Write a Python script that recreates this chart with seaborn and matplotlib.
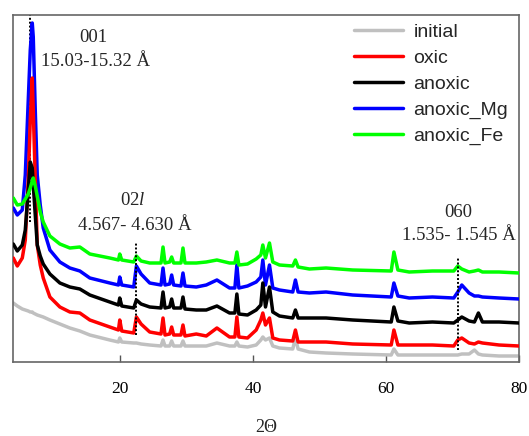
import matplotlib
matplotlib.use("Agg")
import matplotlib.pyplot as plt
import pandas as pd
import seaborn as sns

# 2-theta positions (degrees)
two_theta = [4.0, 4.6, 5.35, 5.8, 6.25, 6.55, 6.85, 7.0, 7.3, 7.6,
             8.05, 8.5, 9.5, 11.0, 12.5, 14.0, 15.5, 18.5, 19.8, 20.0,
             20.3, 22.1, 22.5, 23.2, 24.5, 26.2, 26.5, 26.8, 27.5, 27.8,
             28.1, 29.2, 29.5, 29.8, 31.5, 33.0, 34.6, 36.5, 37.3, 37.6,
             37.9, 39.2, 40.5, 41.2, 41.5, 41.9, 42.5, 43.0, 44.0, 46.0,
             46.4, 46.8, 48.5, 51.0, 55.0, 60.8, 61.2, 61.8, 63.5, 67.0,
             70.2, 70.8, 71.4, 72.5, 73.3, 73.9, 74.5, 77.0, 80.0]

# intensities (arbitrary units, stacked patterns)
initial = [59, 56, 53, 52, 51, 50, 50, 49, 48, 47,
           46, 45, 42, 38, 34, 31, 27, 22, 20, 24,
           20, 19, 19, 18, 17, 16, 22, 16, 16, 21,
           16, 16, 21, 16, 16, 16, 19, 16, 16, 20,
           16, 15, 17, 22, 25, 22, 24, 16, 14, 13,
           24, 13, 10, 9, 8, 7, 13, 7, 7, 7,
           7, 7, 8, 8, 12, 8, 7, 6, 6]
oxic = [104, 96, 104, 122, 182, 242, 284, 252, 182, 117,
        97, 84, 65, 55, 50, 49, 42, 35, 32, 42,
        31, 29, 45, 38, 30, 28, 44, 27, 28, 35,
        27, 27, 37, 26, 28, 26, 34, 25, 25, 45,
        25, 24, 32, 42, 49, 37, 44, 24, 22, 21,
        32, 20, 20, 20, 18, 17, 32, 17, 17, 17,
        16, 22, 24, 19, 18, 20, 19, 17, 16]
anoxic = [118, 111, 117, 132, 172, 200, 194, 177, 147, 117,
          106, 98, 88, 79, 75, 73, 67, 60, 57, 64,
          56, 54, 62, 58, 55, 54, 70, 54, 55, 63,
          54, 54, 65, 53, 52, 52, 56, 49, 49, 68,
          48, 47, 52, 57, 79, 55, 75, 50, 46, 44,
          52, 44, 44, 44, 42, 40, 55, 41, 39, 40,
          39, 42, 45, 41, 40, 49, 40, 40, 39]
anoxic_mg = [154, 147, 152, 187, 262, 312, 339, 325, 252, 187,
             157, 134, 112, 100, 94, 91, 84, 79, 77, 85,
             77, 75, 96, 88, 79, 77, 94, 77, 78, 87,
             77, 76, 89, 76, 75, 77, 82, 74, 74, 97,
             74, 76, 80, 85, 102, 77, 97, 74, 72, 70,
             82, 70, 69, 70, 67, 65, 79, 66, 64, 65,
             64, 70, 77, 69, 66, 66, 65, 64, 63]
anoxic_fe = [164, 157, 158, 163, 168, 174, 181, 184, 176, 166,
             150, 140, 126, 118, 114, 115, 108, 104, 102, 108,
             102, 100, 106, 101, 99, 99, 115, 99, 100, 105,
             99, 99, 114, 99, 99, 100, 102, 99, 99, 110,
             97, 98, 103, 107, 117, 104, 119, 100, 97, 96,
             102, 95, 93, 94, 92, 91, 110, 92, 90, 91,
             91, 96, 93, 90, 91, 92, 90, 90, 89]

samples = ["initial", "oxic", "anoxic", "anoxic_Mg", "anoxic_Fe"]
series = [initial, oxic, anoxic, anoxic_mg, anoxic_fe]
colors = ["#c0c0c0", "#ff0000", "#000000", "#0000ff", "#00ff00"]
z_of = {"#c0c0c0": 2, "#0000ff": 3, "#ff0000": 4, "#000000": 5, "#00ff00": 6}

# reflection annotations
refl_labels = ["001", "02$\\mathit{l}$", "060"]
refl_ranges = ["15.03-15.32 Å", "4.567- 4.630 Å", "1.535- 1.545 Å"]
refl_pos = [6.55, 22.45, 70.87]

df = pd.concat([pd.DataFrame({"2Θ": two_theta, "I": vals, "sample": name})
                for name, vals in zip(samples, series)], ignore_index=True)

sns.set_style("white")
plt.rcParams["font.family"] = ["Liberation Serif", "DejaVu Serif"]
plt.rcParams["mathtext.fontset"] = "custom"
plt.rcParams["mathtext.rm"] = "Liberation Serif"
plt.rcParams["mathtext.it"] = "Liberation Serif:italic"

fig = plt.figure(figsize=(5.29, 4.36), dpi=100)
ax = fig.add_axes([13.3 / 529, 1 - 362 / 436, 505.7 / 529, 347 / 436])

sns.lineplot(data=df, x="2Θ", y="I", hue="sample", hue_order=samples,
             palette=colors, sort=False, estimator=None, linewidth=2.5, ax=ax)
for ln in ax.lines:
    c = matplotlib.colors.to_hex(ln.get_color())
    ln.set_zorder(z_of.get(c, 2))
    ln.set_solid_joinstyle("round")

# dotted reflection markers
ax.plot([refl_pos[0]] * 2, [140, 347], color="black", ls=(0, (1, 1)), lw=1.4, zorder=1.5)
ax.plot([refl_pos[1]] * 2, [27, 119], color="black", ls=(0, (1, 1)), lw=1.4, zorder=7)
ax.plot([refl_pos[2]] * 2, [12, 104], color="black", ls=(0, (1, 1)), lw=1.4, zorder=7)

fs = 13.5
ax.text(16.0, 325, refl_labels[0], ha="center", va="center", fontsize=fs)
ax.text(16.3, 301, refl_ranges[0], ha="center", va="center", fontsize=fs)
ax.text(21.9, 162, refl_labels[1], ha="center", va="center", fontsize=fs)
ax.text(22.2, 137, refl_ranges[1], ha="center", va="center", fontsize=fs)
ax.text(70.8, 150, refl_labels[2], ha="center", va="center", fontsize=fs)
ax.text(70.9, 127, refl_ranges[2], ha="center", va="center", fontsize=fs)

ax.set_xlim(4, 80)
ax.set_ylim(0, 347)
ax.set_xticks([20, 40, 60, 80])
ax.set_yticks([])
ax.tick_params(axis="x", direction="in", length=5, width=1, color="#555555",
               pad=14, labelsize=12.5, labelcolor="black", bottom=True)
ax.set_xlabel("2Θ", fontsize=13, labelpad=15.5)
ax.set_ylabel("")
for sp in ax.spines.values():
    sp.set_color("#666666")
    sp.set_linewidth(1.2)
    sp.set_visible(True)

sns.move_legend(ax, loc="upper left", bbox_to_anchor=((354 - 13.3) / 505.7, (362 - 23.5) / 347),
                frameon=False, title=None, borderpad=0, borderaxespad=0,
                handlelength=2.5, handletextpad=0.55, labelspacing=0.43,
                prop={"family": "Liberation Sans", "size": 14})

fig.savefig("out.png", dpi=100)
